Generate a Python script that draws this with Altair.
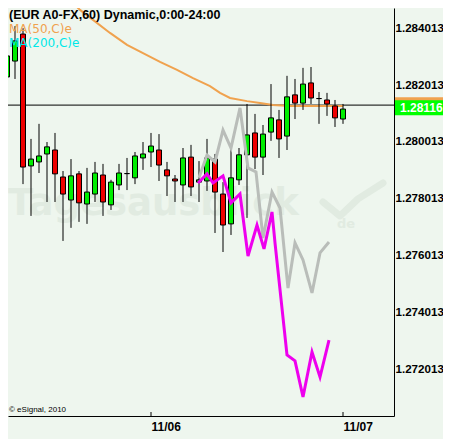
import altair as alt
import pandas as pd

# ---- data ----
# hourly candles, hour counted from 11/05 00:00 (24 = 11/06, 48 = 11/07)
hours = list(range(6, 49))
opens = [1.28230, 1.28286, 1.28381, 1.27917, 1.27931, 1.27959, 1.27973, 1.27878, 1.27797, 1.27889,
         1.27783, 1.27818, 1.27885, 1.27780, 1.27850, 1.27890, 1.27875, 1.27945, 1.27966, 1.27973,
         1.27903, 1.27871, 1.27850, 1.27948, 1.27860, 1.27864, 1.27941, 1.27818, 1.27713, 1.27868,
         1.27956, 1.28033, 1.27948, 1.28036, 1.28079, 1.28022, 1.28167, 1.28138, 1.28209, 1.28154,
         1.28149, 1.28128, 1.28082]
highs = [1.28321, 1.28409, 1.28402, 1.28012, 1.28065, 1.28001, 1.28033, 1.27899, 1.27941, 1.27899,
         1.27910, 1.27931, 1.27924, 1.27868, 1.27924, 1.27945, 1.27966, 1.28001, 1.28033, 1.28029,
         1.27931, 1.27885, 1.27980, 1.27991, 1.27934, 1.28012, 1.27959, 1.27860, 1.27980, 1.27980,
         1.28135, 1.28100, 1.28061, 1.28205, 1.28114, 1.28234, 1.28223, 1.28262, 1.28265, 1.28177,
         1.28174, 1.28149, 1.28135]
lows = [1.28205, 1.28223, 1.27853, 1.27741, 1.27892, 1.27790, 1.27790, 1.27653, 1.27699, 1.27720,
        1.27713, 1.27790, 1.27741, 1.27762, 1.27832, 1.27832, 1.27853, 1.27903, 1.27913, 1.27864,
        1.27811, 1.27790, 1.27790, 1.27811, 1.27790, 1.27829, 1.27681, 1.27614, 1.27674, 1.27850,
        1.27734, 1.27906, 1.27885, 1.28005, 1.27945, 1.27973, 1.28082, 1.28114, 1.28135, 1.28065,
        1.28093, 1.28054, 1.28065]
closes = [1.28304, 1.28357, 1.27913, 1.27941, 1.27952, 1.27984, 1.27889, 1.27818, 1.27882, 1.27787,
          1.27825, 1.27892, 1.27790, 1.27860, 1.27892, 1.27890, 1.27952, 1.27959, 1.27987, 1.27920,
          1.27882, 1.27864, 1.27945, 1.27843, 1.27868, 1.27945, 1.27825, 1.27709, 1.27875, 1.27956,
          1.28026, 1.27948, 1.28029, 1.28086, 1.28012, 1.28160, 1.28138, 1.28205, 1.28156, 1.28154,
          1.28135, 1.28086, 1.28117]

# MA(50,C)e
ma_hours = [12.875, 13.875, 15.125, 16.75, 18.875, 21.0, 23.0, 25.125, 27.25, 29.25, 31.375,
            32.625, 33.875, 36.0, 37.625, 39.25, 41.375, 43.875, 48.0]
ma_vals = [1.28536, 1.28501, 1.28466, 1.28431, 1.28385, 1.28343, 1.28314, 1.28283, 1.28255,
           1.28226, 1.28198, 1.28174, 1.28156, 1.28145, 1.28138, 1.28131, 1.28128, 1.28128, 1.28128]

# magenta projection
mag_hours = [29.875, 31.0, 31.75, 33.0, 34.0, 35.125, 36.125, 37.25, 38.125, 39.125, 39.5,
             41.0, 42.0, 43.0, 44.125, 45.125, 46.25]
mag_vals = [1.27857, 1.27889, 1.27857, 1.27882, 1.27787, 1.27818, 1.27600, 1.27709, 1.27625,
            1.27755, 1.27646, 1.27252, 1.27231, 1.27104, 1.27262, 1.27174, 1.27304]

# gray projection
gray_hours = [30.0, 31.0, 32.0, 33.0, 34.0, 35.125, 36.125, 37.125, 38.0, 39.125, 40.125,
              41.125, 42.0, 43.0, 44.125, 45.125, 46.25]
gray_vals = [1.27875, 1.27955, 1.27931, 1.28043, 1.27980, 1.28121, 1.27910, 1.27896, 1.27663,
             1.27825, 1.27769, 1.27487, 1.27646, 1.27586, 1.27470, 1.27611, 1.27649]

hline_price = 1.28131
last_price = 1.28116
ytick_values = [1.272013, 1.274013, 1.276013, 1.278013, 1.280013, 1.282013, 1.284013]
xtick_values = [24, 48]
xtick_labels = ["11/06", "11/07"]

title_text = "(EUR A0-FX,60) Dynamic,0:00-24:00"
legend_ma50 = "MA(50,C)e"
legend_ma200 = "MA(200,C)e"
copyright_text = "© eSignal, 2010"
watermark_text = "Tagesausblick"
watermark_pos = (6.125, 1.27744)
de_pos = (47.25, 1.27699)
arrow_hours = [45.5, 47.625, 49.875, 53.0]
arrow_vals = [1.27790, 1.27741, 1.27801, 1.27857]

# ---- tables ----
def kind(o, c):
    if c > o:
        return "up"
    if c < o:
        return "down"
    return "doji"

candles = pd.DataFrame({"h": hours, "open": opens, "high": highs, "low": lows, "close": closes})
candles["kind"] = [kind(o, c) for o, c in zip(opens, closes)]
ma_df = pd.DataFrame({"h": ma_hours, "v": ma_vals})
mag_df = pd.DataFrame({"h": mag_hours, "v": mag_vals})
gray_df = pd.DataFrame({"h": gray_hours, "v": gray_vals})
arrow_df = pd.DataFrame({"h": arrow_hours, "v": arrow_vals})
tick_df = pd.DataFrame({"h": xtick_values})

BG = "#eef6ee"
WM = "#e1ebe1"
ORANGE = "#f0a24e"
XS = alt.Scale(domain=[6.125, 54.375], nice=False, zero=False, padding=0)
YS = alt.Scale(domain=[1.270369, 1.284727], nice=False, zero=False, padding=0)

label_expr = " : ".join(
    [f"datum.value == {v} ? '{t}'" for v, t in zip(xtick_values[:-1], xtick_labels[:-1])]
) + f" : '{xtick_labels[-1]}'"

X_AXIS = alt.Axis(values=xtick_values, labelExpr=label_expr, ticks=False, tickSize=0,
                  labelPadding=5, labelAlign="left", labelBaseline="top",
                  labelFont="Liberation Sans", labelFontSize=12, labelFontWeight="bold",
                  labelColor="black", domainColor="black", domainWidth=1, grid=False,
                  title=None, labelFlush=False, labelOverlap=False, labelBound=False)
Y_AXIS = alt.Axis(orient="right", values=ytick_values, format=".6f", ticks=False, tickSize=0,
                  labelPadding=1, labelAlign="left", labelFont="Liberation Sans",
                  labelFontSize=11.6, labelFontWeight="bold", labelColor="black",
                  domainColor="black", domainWidth=1, grid=False, title=None,
                  labelFlush=False, labelOverlap=False, labelBound=False)


def X(field):
    return alt.X(field, scale=XS, axis=X_AXIS)


def Y(field):
    return alt.Y(field, scale=YS, axis=Y_AXIS)


# watermark
wm = alt.Chart(pd.DataFrame({"h": [watermark_pos[0]], "v": [watermark_pos[1]], "t": [watermark_text]})).mark_text(
    align="left", baseline="alphabetic", font="DejaVu Sans", fontWeight="bold", fontSize=37, color=WM
).encode(x=X("h:Q"), y=Y("v:Q"), text="t:N")
wm_de = alt.Chart(pd.DataFrame({"h": [de_pos[0]], "v": [de_pos[1]], "t": ["de"]})).mark_text(
    align="left", baseline="alphabetic", font="DejaVu Sans", fontWeight="bold", fontSize=13, color=WM
).encode(x=X("h:Q"), y=Y("v:Q"), text="t:N")
wm_arrow = alt.Chart(arrow_df).mark_line(color=WM, strokeWidth=7, strokeCap="round", strokeJoin="round").encode(
    x=X("h:Q"), y=Y("v:Q"))

hline = alt.Chart(pd.DataFrame({"v": [hline_price]})).mark_rule(color="black", strokeWidth=1).encode(
    y=Y("v:Q"))

ma = alt.Chart(ma_df).mark_line(color=ORANGE, strokeWidth=2, clip=True).encode(
    x=X("h:Q"), y=Y("v:Q"))

wicks = alt.Chart(candles).mark_rule(color="black", strokeWidth=1).encode(
    x=X("h:Q"), y=Y("low:Q"), y2="high:Q")
bodies = alt.Chart(candles).mark_bar(size=5, stroke="black", strokeWidth=1).encode(
    x=X("h:Q"), y=Y("open:Q"), y2="close:Q",
    color=alt.Color("kind:N", scale=alt.Scale(domain=["up", "down", "doji"],
                                              range=["#00ee00", "#ee0000", "#000000"]), legend=None))

gray = alt.Chart(gray_df).mark_line(color="#b9bdb9", strokeWidth=3).encode(x=X("h:Q"), y=Y("v:Q"))
mag = alt.Chart(mag_df).mark_line(color="#ee00ee", strokeWidth=3).encode(x=X("h:Q"), y=Y("v:Q"))

ticks = alt.Chart(tick_df).mark_rule(color="black", strokeWidth=1).encode(
    x=X("h:Q"), y=alt.value(404), y2=alt.value(408))

# last price tag on the right axis
lp = pd.DataFrame({"v": [last_price], "t": [f"{last_price:.5f}"]})
tag_orange = alt.Chart(lp).mark_rect(color=ORANGE, yOffset=-12, y2Offset=3).encode(
    x=alt.value(387), x2=alt.value(440), y=Y("v:Q"), y2="v:Q")
tag_green = alt.Chart(lp).mark_rect(color="#00ff00", yOffset=-9, y2Offset=6).encode(
    x=alt.value(387), x2=alt.value(436), y=Y("v:Q"), y2="v:Q")
tag_text = alt.Chart(lp).mark_text(align="left", baseline="middle", font="Liberation Sans",
                                   fontWeight="bold", fontSize=12, color="white", dy=-1).encode(
    x=alt.value(392), y=Y("v:Q"), text="t:N")


def label(txt, x, y, color, size, weight="normal", font="Liberation Sans"):
    return alt.Chart(pd.DataFrame({"t": [txt]})).mark_text(
        align="left", baseline="alphabetic", font=font, fontSize=size, fontWeight=weight, color=color
    ).encode(x=alt.value(x), y=alt.value(y), text="t:N")


title = label(title_text, 1, 10.5, "black", 12.5, "bold")
leg50 = label(legend_ma50, 1, 24.5, ORANGE, 12, font="DejaVu Sans")
leg200 = label(legend_ma200, 1, 38.5, "#00e8e8", 12, font="DejaVu Sans")
copy_ = label(copyright_text, 1, 404, "black", 8)

chart = alt.layer(
    wm, wm_de, wm_arrow, hline, ma, wicks, bodies, gray, mag, ticks,
    tag_orange, tag_green, tag_text, title, leg50, leg200, copy_
).properties(
    width=386, height=408,
    padding={"left": 0, "top": 0, "right": 49, "bottom": 23},
    autosize=alt.AutoSizeParams(type="none"),
).configure(background=BG).configure_view(stroke=None, fill=BG)

chart.save("out.html", embed_options={"renderer": "svg", "actions": False})
